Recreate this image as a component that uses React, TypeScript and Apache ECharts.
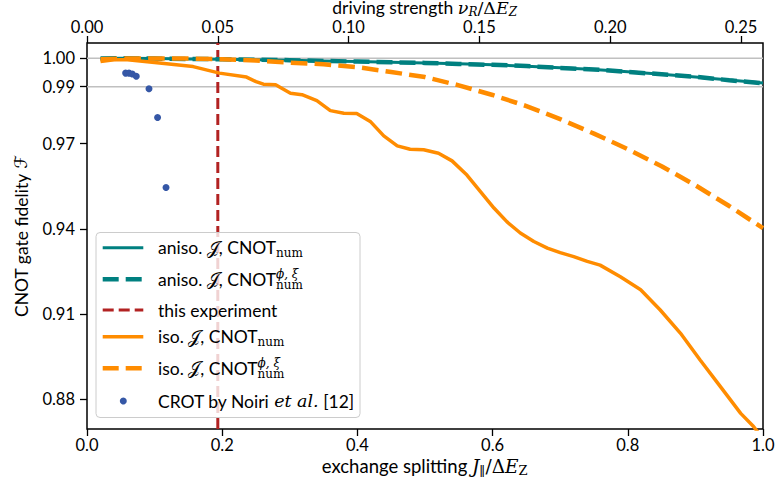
import React, { useEffect, useRef } from "react";
import * as echarts from "echarts";

// ---------- data ----------
const anisoX = [0.02, 0.05, 0.1, 0.15, 0.2, 0.25, 0.3, 0.35, 0.4, 0.45, 0.5, 0.55, 0.6, 0.65, 0.7, 0.75, 0.8, 0.85, 0.9, 0.95, 1.0];
const anisoNum = [0.99995, 1.0, 0.9999, 0.9998, 0.99965, 0.9995, 0.9993, 0.9991, 0.9989, 0.99865, 0.9984, 0.9981, 0.9977, 0.9972, 0.9967, 0.9961, 0.9953, 0.9944, 0.9934, 0.9924, 0.9913];
const anisoPhiXi = [0.99995, 1.0, 0.99992, 0.9998, 0.99968, 0.9995, 0.99935, 0.9991, 0.99885, 0.9986, 0.9984, 0.998, 0.9977, 0.9973, 0.9966, 0.9961, 0.9952, 0.9944, 0.9935, 0.9923, 0.9912];

const isoNumX = [0.02, 0.04, 0.06, 0.1, 0.157, 0.196, 0.236, 0.25, 0.261, 0.279, 0.301, 0.318, 0.34, 0.36, 0.38, 0.399, 0.419, 0.439, 0.459, 0.478, 0.498, 0.52, 0.54, 0.562, 0.582, 0.602, 0.621, 0.641, 0.661, 0.681, 0.7, 0.72, 0.74, 0.759, 0.789, 0.819, 0.848, 0.878, 0.907, 0.937, 0.967, 0.986, 1.0];
const isoNum = [0.9989, 0.9995, 0.9995, 0.9985, 0.9971, 0.9948, 0.9934, 0.9918, 0.9909, 0.9907, 0.9877, 0.9872, 0.9851, 0.9816, 0.9807, 0.9806, 0.9778, 0.9727, 0.9692, 0.968, 0.9678, 0.9666, 0.9639, 0.9589, 0.9531, 0.9473, 0.9425, 0.9385, 0.9355, 0.9332, 0.9316, 0.9302, 0.9285, 0.9272, 0.9231, 0.9185, 0.9114, 0.9032, 0.8938, 0.8844, 0.875, 0.8704, 0.866];

const isoPhiXiX = [0.02, 0.05, 0.1, 0.15, 0.2, 0.25, 0.3, 0.35, 0.4, 0.45, 0.5, 0.55, 0.6, 0.65, 0.7, 0.75, 0.8, 0.85, 0.9, 0.95, 1.0];
const isoPhiXi = [0.9997, 0.9999, 0.99995, 0.9999, 0.9997, 0.9992, 0.9985, 0.9979, 0.9969, 0.9952, 0.9934, 0.9905, 0.9871, 0.9832, 0.9786, 0.9735, 0.968, 0.962, 0.9553, 0.948, 0.9402];

const noiriX = [0.0571, 0.0621, 0.067, 0.0729, 0.0917, 0.1044, 0.1169];
const noiriF = [0.9948, 0.9948, 0.9945, 0.9937, 0.9893, 0.9792, 0.9545];

const experimentDrive = 0.05;
const gridLevels = [0.99, 1.0];
const yTicks = [0.88, 0.91, 0.94, 0.97, 0.99, 1.0];
const topTicks = [0, 0.05, 0.1, 0.15, 0.2, 0.25];
const Y_MIN = 0.8695;
const Y_MAX = 1.0054;
const TOP_MAX = 0.2584;

// ---------- style ----------
const SANS = "Lato, 'Open Sans', sans-serif";
const SERIF = "'DejaVu Serif', 'Liberation Serif', serif";
const SCRIPT = "'DejaVu Sans', 'DejaVu Serif', 'Noto Sans', serif";
const TEAL = "#008080";
const ORANGE = "#ff8c00";
const RED = "#b22222";
const BLUE = "#3557a6";
const FS = 17.5;
const FSS = 12;

type Piece = { t: string; size: number; family: string; italic?: boolean; dy?: number; stack?: boolean };

let measureCtx: CanvasRenderingContext2D | null = null;
function measure(text: string, font: string): number {
  if (!measureCtx) measureCtx = document.createElement("canvas").getContext("2d");
  measureCtx!.font = font;
  return measureCtx!.measureText(text).width;
}

function layout(pieces: Piece[], z: number, fill = "#000") {
  let x = 0;
  let prevX = 0;
  const out: any[] = [];
  for (const p of pieces) {
    const font = `${p.italic ? "italic " : ""}${p.size}px ${p.family}`;
    const w = measure(p.t, font);
    let px: number;
    if (p.stack) {
      px = prevX;
      x = Math.max(x, prevX + w);
    } else {
      px = x;
      x = x + w;
    }
    prevX = px;
    out.push({
      type: "text",
      z,
      x: px,
      y: p.dy || 0,
      style: {
        text: p.t,
        fontSize: p.size,
        fontFamily: p.family,
        fontStyle: p.italic ? "italic" : "normal",
        fill,
        align: "left",
        verticalAlign: "middle",
        textAlign: "left",
        textVerticalAlign: "middle",
      },
    });
  }
  return { children: out, width: x };
}

function mathGroup(pieces: Piece[], x: number, y: number, anchor: "left" | "center", rotation = 0, z = 100) {
  const { children, width } = layout(pieces, z);
  const off = anchor === "center" ? -width / 2 : 0;
  children.forEach((c) => (c.x += off));
  return { type: "group", x, y, rotation, z, children };
}

const S = (t: string, size = FS): Piece => ({ t, size, family: SANS });
const M = (t: string, size = FS, dy = 0, italic = true, stack = false): Piece => ({ t, size, family: SERIF, italic, dy, stack });
const J = (): Piece => ({ t: "𝒥", size: FS, family: SCRIPT });

export default function App() {
  const ref = useRef<HTMLDivElement>(null);
  useEffect(() => {
    document.body.style.margin = "0";
    const chart = echarts.init(ref.current!, undefined, { renderer: "svg" });

    const pairs = (xs: number[], ys: number[]) => xs.map((x, i) => [x, ys[i]]);

    // legend
    const legX = 96, legY = 232.5, legW = 264, legH = 185;
    const rows = [247.7, 279.3, 310, 336.7, 368.3, 401];
    const mk0 = 102.7, mk1 = 143.3, tx = 158;
    const legendItems: any[] = [
      { type: "rect", z: 100, shape: { x: legX, y: legY, width: legW, height: legH, r: 4 }, style: { fill: "rgba(255,255,255,0.8)", stroke: "#cccccc", lineWidth: 1 } },
      { type: "line", z: 101, shape: { x1: mk0, y1: rows[0], x2: mk1, y2: rows[0] }, style: { stroke: TEAL, lineWidth: 3 } },
      { type: "line", z: 101, shape: { x1: mk0, y1: rows[1], x2: mk1, y2: rows[1] }, style: { stroke: TEAL, lineWidth: 4.5, lineDash: [16, 7] } },
      { type: "line", z: 101, shape: { x1: mk0, y1: rows[2], x2: mk1, y2: rows[2] }, style: { stroke: RED, lineWidth: 3, lineDash: [11, 5] } },
      { type: "line", z: 101, shape: { x1: mk0, y1: rows[3], x2: mk1, y2: rows[3] }, style: { stroke: ORANGE, lineWidth: 3.5 } },
      { type: "line", z: 101, shape: { x1: mk0, y1: rows[4], x2: mk1, y2: rows[4] }, style: { stroke: ORANGE, lineWidth: 4.5, lineDash: [16, 7] } },
      { type: "circle", z: 101, shape: { cx: 123.3, cy: rows[5], r: 3.5 }, style: { fill: BLUE } },
      mathGroup([S("aniso. "), J(), S(", CNOT"), M("num", FSS, 5, false)], tx, rows[0], "left", 0, 102),
      mathGroup([S("aniso. "), J(), S(", CNOT"), M("ϕ, ξ", FSS, -5), M("num", FSS, 6, false, true)], tx, rows[1], "left", 0, 102),
      mathGroup([S("this experiment")], tx, rows[2], "left", 0, 102),
      mathGroup([S("iso. "), J(), S(", CNOT"), M("num", FSS, 5, false)], tx, rows[3], "left", 0, 102),
      mathGroup([S("iso. "), J(), S(", CNOT"), M("ϕ, ξ", FSS, -5), M("num", FSS, 6, false, true)], tx, rows[4], "left", 0, 102),
      mathGroup([S("CROT by Noiri "), M("et al.", FS), S(" [12]")], tx, rows[5], "left", 0, 102),
    ];

    const axisNames: any[] = [
      mathGroup([S("driving strength "), M("ν"), M("R", FSS, 4), M("/Δ", FS, 0, false), M("E"), M("Z", FSS, 4)], 424.7, 7.5, "center"),
      mathGroup([S("exchange splitting ", 18.5), M("J", 18.5), M("∥", 13, 5, false), M("/Δ", 18.5, 0, false), M("E", 18.5), M("Z", 13, 4, false)], 424.7, 466, "center"),
      mathGroup([S("CNOT gate fidelity "), { t: "ℱ", size: FS, family: SCRIPT }], 21, 236, "center", Math.PI / 2),
    ];

    const tickLabel = { color: "#000", fontSize: 16.5, fontFamily: SANS };
    const tick = { show: true, length: 7, lineStyle: { color: "#000", width: 1.3 } };

    chart.setOption({
      animation: false,
      grid: { left: 87, right: 15, top: 43, bottom: 55, show: true, borderColor: "#000", borderWidth: 1.5, backgroundColor: "transparent" },
      xAxis: [
        {
          type: "value", position: "bottom", min: 0, max: 1, interval: 0.2,
          axisLine: { show: false }, axisTick: tick, splitLine: { show: false },
          axisLabel: { ...tickLabel, margin: 7, formatter: (v: number) => v.toFixed(1) },
        },
        {
          type: "value", position: "top", min: 0, max: TOP_MAX,
          axisLine: { show: false }, axisTick: { ...tick, customValues: topTicks }, splitLine: { show: false },
          axisLabel: { ...tickLabel, margin: 8, customValues: topTicks, formatter: (v: number) => v.toFixed(2) },
        },
      ],
      yAxis: {
        type: "value", min: Y_MIN, max: Y_MAX,
        axisLine: { show: false }, axisTick: { ...tick, customValues: yTicks }, splitLine: { show: false },
        axisLabel: { ...tickLabel, margin: 12, customValues: yTicks, formatter: (v: number) => v.toFixed(2) },
      },
      series: [
        ...gridLevels.map((g) => ({
          type: "line", silent: true, symbol: "none", z: 1,
          data: [[0, g], [1, g]],
          lineStyle: { color: "#c0c0c0", width: 1.5 },
        })),
        {
          name: "this experiment", type: "line", xAxisIndex: 1, symbol: "none", z: 2,
          data: [[experimentDrive, Y_MIN], [experimentDrive, Y_MAX]],
          lineStyle: { color: RED, width: 3, type: [11, 5] },
        },
        {
          name: "aniso num", type: "line", symbol: "none", z: 3,
          data: pairs(anisoX, anisoNum), lineStyle: { color: TEAL, width: 3 },
        },
        {
          name: "aniso phixi", type: "line", symbol: "none", z: 4,
          data: pairs(anisoX, anisoPhiXi), lineStyle: { color: TEAL, width: 4.5, type: [16, 7] },
        },
        {
          name: "iso num", type: "line", symbol: "none", z: 5,
          data: pairs(isoNumX, isoNum), lineStyle: { color: ORANGE, width: 3.5 },
        },
        {
          name: "iso phixi", type: "line", symbol: "none", z: 6,
          data: pairs(isoPhiXiX, isoPhiXi), lineStyle: { color: ORANGE, width: 4.5, type: [16.6, 7.2] },
        },
        {
          name: "CROT by Noiri", type: "scatter", symbolSize: 7, z: 7,
          data: pairs(noiriX, noiriF), itemStyle: { color: BLUE, opacity: 1 },
        },
      ],
      graphic: { elements: [...legendItems, ...axisNames] },
    });
    return () => chart.dispose();
  }, []);
  return <div ref={ref} style={{ width: 778, height: 484 }} />;
}
